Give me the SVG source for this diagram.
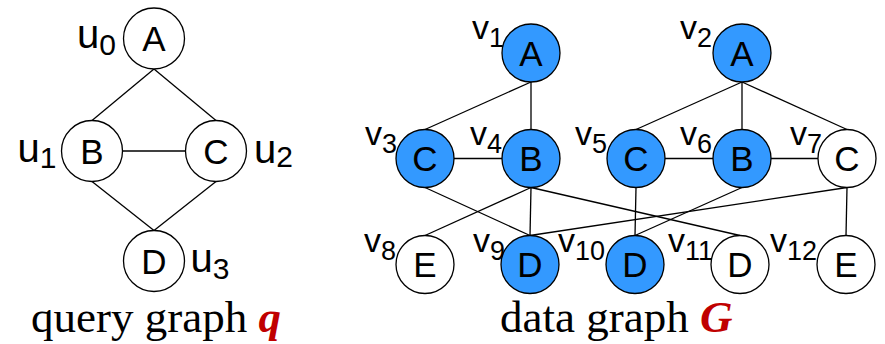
<svg xmlns="http://www.w3.org/2000/svg" width="885" height="344" viewBox="0 0 885 344">
<style>
.n{fill:#fff;stroke:#000;stroke-width:1.3}
.b{fill:#3399ff;stroke:#000;stroke-width:1.3}
.t{font-family:"Liberation Sans",Arial,sans-serif;font-size:35px;text-anchor:middle;fill:#000}
.u{font-family:"Liberation Sans",Arial,sans-serif;font-size:40px;fill:#000}
.v{font-family:"Liberation Sans",Arial,sans-serif;font-size:34px;fill:#000}
.su{font-size:30px}
.sv{font-size:27px}
.e line{stroke:#000;stroke-width:1.3}
.cap{font-family:"Liberation Serif","Times New Roman",serif;font-size:45px;fill:#000}
.m{font-weight:bold;font-style:italic;fill:#c00000}
</style>
<rect width="885" height="344" fill="#fff"/>
<g id="connectors" class="e">
<line x1="154" y1="69" x2="92" y2="120.5"/>
<line x1="154" y1="69" x2="216" y2="120.5"/>
<line x1="122.5" y1="151" x2="185.5" y2="151"/>
<line x1="92" y1="181.5" x2="154" y2="230.5"/>
<line x1="216" y1="181.5" x2="154" y2="230.5"/>
<line x1="531" y1="82" x2="425" y2="129.5"/>
<line x1="531" y1="82" x2="531" y2="129.5"/>
<line x1="454" y1="158.5" x2="502" y2="158.5"/>
<line x1="742" y1="82" x2="636" y2="129.5"/>
<line x1="742" y1="82" x2="742" y2="129.5"/>
<line x1="742" y1="82" x2="847" y2="129.5"/>
<line x1="665" y1="158.5" x2="713" y2="158.5"/>
<line x1="771" y1="158.5" x2="818" y2="158.5"/>
<line x1="425" y1="187.5" x2="530" y2="235.5"/>
<line x1="531" y1="187.5" x2="425" y2="235.5"/>
<line x1="531" y1="187.5" x2="530" y2="235.5"/>
<line x1="531" y1="187.5" x2="740" y2="235.5"/>
<line x1="636" y1="187.5" x2="635" y2="235.5"/>
<line x1="742" y1="187.5" x2="635" y2="235.5"/>
<line x1="847" y1="187.5" x2="530" y2="235.5"/>
<line x1="847" y1="187.5" x2="846" y2="235.5"/>
</g>
<g id="u0"><circle class="n" cx="154" cy="38.5" r="30.5"/><text class="t" x="154" y="51">A</text><text class="u" x="77" y="48">u<tspan class="su" dy="7">0</tspan></text></g>
<g id="u1"><circle class="n" cx="92" cy="151" r="30.5"/><text class="t" x="92" y="163.5">B</text><text class="u" x="17.5" y="162">u<tspan class="su" dy="6">1</tspan></text></g>
<g id="u2"><circle class="n" cx="216" cy="151" r="30.5"/><text class="t" x="216" y="163.5">C</text><text class="u" x="254" y="163">u<tspan class="su" dy="4">2</tspan></text></g>
<g id="u3"><circle class="n" cx="154" cy="261" r="30.5"/><text class="t" x="154" y="273.5">D</text><text class="u" x="190.5" y="272">u<tspan class="su" dy="7">3</tspan></text></g>
<g id="v1"><circle class="b" cx="531" cy="53" r="29"/><text class="t" x="531" y="65.5">A</text><text class="v" x="472" y="38.5">v<tspan class="sv" dy="8">1</tspan></text></g>
<g id="v2"><circle class="b" cx="742" cy="53" r="29"/><text class="t" x="742" y="65.5">A</text><text class="v" x="680" y="38.5">v<tspan class="sv" dy="8">2</tspan></text></g>
<g id="v3"><circle class="b" cx="425" cy="158.5" r="29"/><text class="t" x="425" y="171">C</text><text class="v" x="365" y="145">v<tspan class="sv" dy="8">3</tspan></text></g>
<g id="v4"><circle class="b" cx="531" cy="158.5" r="29"/><text class="t" x="531" y="171">B</text><text class="v" x="470" y="145">v<tspan class="sv" dy="8">4</tspan></text></g>
<g id="v5"><circle class="b" cx="636" cy="158.5" r="29"/><text class="t" x="636" y="171">C</text><text class="v" x="575" y="145">v<tspan class="sv" dy="8">5</tspan></text></g>
<g id="v6"><circle class="b" cx="742" cy="158.5" r="29"/><text class="t" x="742" y="171">B</text><text class="v" x="680" y="145">v<tspan class="sv" dy="8">6</tspan></text></g>
<g id="v7"><circle class="n" cx="847" cy="158.5" r="29"/><text class="t" x="847" y="171">C</text><text class="v" x="790" y="145">v<tspan class="sv" dy="8">7</tspan></text></g>
<g id="v8"><circle class="n" cx="425" cy="264.5" r="29"/><text class="t" x="425" y="277">E</text><text class="v" x="364" y="251.5">v<tspan class="sv" dy="8">8</tspan></text></g>
<g id="v9"><circle class="b" cx="530" cy="264.5" r="29"/><text class="t" x="530" y="277">D</text><text class="v" x="473" y="251.5">v<tspan class="sv" dy="8">9</tspan></text></g>
<g id="v10"><circle class="b" cx="635" cy="264.5" r="29"/><text class="t" x="635" y="277">D</text><text class="v" x="558" y="251.5">v<tspan class="sv" dy="8">10</tspan></text></g>
<g id="v11"><circle class="n" cx="740" cy="264.5" r="29"/><text class="t" x="740" y="277">D</text><text class="v" x="668" y="251.5">v<tspan class="sv" dy="8">11</tspan></text></g>
<g id="v12"><circle class="n" cx="846" cy="264.5" r="29"/><text class="t" x="846" y="277">E</text><text class="v" x="770" y="251.5">v<tspan class="sv" dy="8">12</tspan></text></g>
<text id="cap-q" class="cap" x="31" y="331.5">query graph <tspan class="m">q</tspan></text>
<text id="cap-G" class="cap" x="500" y="331.5">data graph <tspan class="m">G</tspan></text>
</svg>
